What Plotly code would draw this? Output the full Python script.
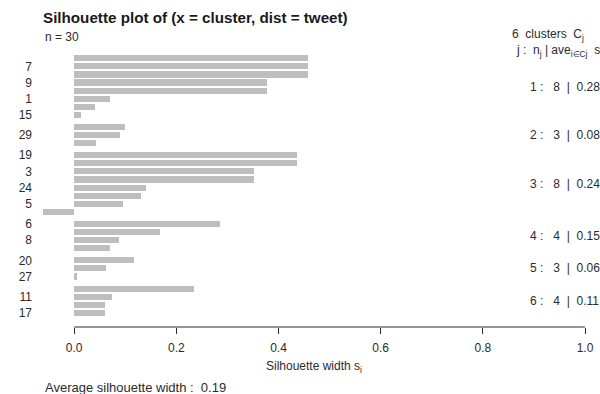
import plotly.graph_objects as go

# ---- data (top to bottom order of bars) ----
cluster = [1, 1, 1, 1, 1, 1, 1, 1,
           2, 2, 2,
           3, 3, 3, 3, 3, 3, 3, 3,
           4, 4, 4, 4,
           5, 5, 5,
           6, 6, 6, 6]
sil_width = [0.457, 0.457, 0.457, 0.377, 0.377, 0.070, 0.041, 0.014,
             0.099, 0.090, 0.043,
             0.436, 0.436, 0.353, 0.353, 0.140, 0.131, 0.096, -0.061,
             0.286, 0.169, 0.088, 0.070,
             0.118, 0.063, 0.005,
             0.234, 0.075, 0.060, 0.060]
obs_label = ["", "7", "", "9", "", "1", "", "15",
             "", "29", "",
             "19", "", "3", "", "24", "", "5", "",
             "6", "", "8", "",
             "20", "", "27",
             "", "11", "", "17"]
x_ticks = [0.0, 0.2, 0.4, 0.6, 0.8, 1.0]

title_text = "Silhouette plot of (x = cluster, dist = tweet)"
FONT = "Arial, Liberation Sans, sans-serif"
TXT = "#2b2b2b"

# ---- layout geometry ----
W, H = 600, 394
L, R, T, B = 43, 585, 42, 327   # plot region in pixels
GAP = 0.5                        # gap between clusters (bar units)

def px(xp):
    return (xp - L) / (R - L)

def py(yp):
    return (B - yp) / (B - T)

# bar positions: one unit per bar, plus gap between clusters
ypos = [i + GAP * (c - 1) for i, c in enumerate(cluster)]
pitch = 8.08
first_px = 58.3
y_top = (T - first_px) / pitch
y_bot = (B - first_px) / pitch

xmin = min(0.0, min(sil_width))

fig = go.Figure()
fig.add_trace(go.Bar(
    x=sil_width, y=ypos, orientation="h", width=0.76,
    marker=dict(color="#bebebe", line=dict(width=0)),
    hoverinfo="skip", showlegend=False,
))

tickv = [y for y, lab in zip(ypos, obs_label) if lab]
tickt = [lab for lab in obs_label if lab]

annotations = []
annotations.append(dict(text="n = %d" % len(sil_width), x=px(43), y=py(37),
                        xref="paper", yref="paper", xanchor="left", yanchor="middle",
                        showarrow=False, font=dict(family=FONT, size=12, color=TXT)))
k = len(set(cluster))
annotations.append(dict(text="%d\u00a0\u00a0clusters\u00a0\u00a0C<sub>j</sub>" % k, x=px(510), y=py(35),
                        xref="paper", yref="paper", xanchor="left", yanchor="middle",
                        showarrow=False, font=dict(family=FONT, size=12, color=TXT)))
annotations.append(dict(text="j\u00a0:\u00a0\u00a0n<sub>j</sub>\u00a0|\u00a0ave<sub>i\u2208Cj</sub>\u00a0\u00a0s<sub>i</sub>",
                        x=px(514), y=py(51), xref="paper", yref="paper",
                        xanchor="left", yanchor="middle",
                        showarrow=False, font=dict(family=FONT, size=12, color=TXT)))

for j in sorted(set(cluster)):
    idx = [i for i, c in enumerate(cluster) if c == j]
    nj = len(idx)
    avg = sum(sil_width[i] for i in idx) / nj
    yj = sum(ypos[i] for i in idx) / nj
    txt = "%d\u00a0:\u00a0\u00a0\u00a0%d\u00a0\u00a0|\u00a0\u00a0%.2f" % (j, nj, avg)
    annotations.append(dict(text=txt, x=px(528), y=yj, xref="paper", yref="y",
                            xanchor="left", yanchor="middle", showarrow=False,
                            font=dict(family=FONT, size=12, color=TXT)))

annotations.append(dict(text="Silhouette width s<sub>i</sub>", x=0.5, y=py(367),
                        xref="paper", yref="paper", xanchor="center", yanchor="middle",
                        showarrow=False, font=dict(family=FONT, size=12, color=TXT)))
avg_all = sum(sil_width) / len(sil_width)
annotations.append(dict(text="Average silhouette width :\u00a0\u00a0%.2f" % avg_all, x=px(43), y=py(387),
                        xref="paper", yref="paper", xanchor="left", yanchor="middle",
                        showarrow=False, font=dict(family=FONT, size=13, color=TXT)))

fig.update_layout(
    width=W, height=H,
    margin=dict(l=L, r=W - R, t=T, b=H - B, pad=0, autoexpand=False),
    paper_bgcolor="white", plot_bgcolor="white",
    title=dict(text="<b>" + title_text + "</b>", xref="container", yref="container",
               x=43 / W, y=1 - 18 / H, xanchor="left", yanchor="middle",
               font=dict(family=FONT, size=15.2, color="#1a1a1a")),
    xaxis=dict(range=[xmin, 1.0], tickvals=x_ticks, ticktext=["%.1f" % v for v in x_ticks],
               ticks="outside", ticklen=6, tickwidth=1, tickcolor=TXT,
               ticklabelstandoff=4,
               showgrid=False, zeroline=False, showline=False, automargin=False,
               tickfont=dict(family=FONT, size=12, color=TXT)),
    yaxis=dict(range=[y_bot, y_top], tickvals=tickv, ticktext=tickt,
               ticks="", showgrid=False, zeroline=False, showline=False,
               ticklabelstandoff=10, automargin=False,
               tickfont=dict(family=FONT, size=12, color=TXT)),
    annotations=annotations,
    shapes=[dict(type="line", xref="x", yref="paper", x0=min(x_ticks), x1=max(x_ticks),
                 y0=0, y1=0, line=dict(color=TXT, width=1))],
    bargap=0,
)

fig.write_html("out.html", config={"displayModeBar": False},
               post_script="document.body.style.margin='0';document.body.style.overflow='hidden';")
